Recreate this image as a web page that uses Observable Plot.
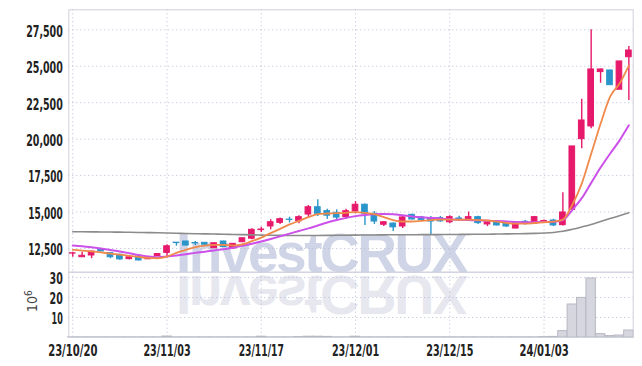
<!DOCTYPE html>
<html><head><meta charset="utf-8">
<script src="https://cdn.jsdelivr.net/npm/d3@7"></script>
<script src="https://cdn.jsdelivr.net/npm/@observablehq/plot@0.6"></script>
<style>
body{margin:0;background:#fff;}
#wrap{position:relative;width:642px;height:366px;overflow:hidden;}
#wrap svg{position:absolute;left:0;}
</style>
</head><body>
<div id="wrap"></div>
<script>
// trading dates (index = position on x)
const dates = ["23/10/20","23/10/23","23/10/24","23/10/25","23/10/26","23/10/27","23/10/30","23/10/31","23/11/01","23/11/02",
"23/11/03","23/11/06","23/11/07","23/11/08","23/11/09","23/11/10","23/11/13","23/11/14","23/11/15","23/11/16",
"23/11/17","23/11/20","23/11/21","23/11/22","23/11/23","23/11/24","23/11/27","23/11/28","23/11/29","23/11/30",
"23/12/01","23/12/04","23/12/05","23/12/06","23/12/07","23/12/08","23/12/11","23/12/12","23/12/13","23/12/14",
"23/12/15","23/12/18","23/12/19","23/12/20","23/12/21","23/12/22","23/12/26","23/12/27","23/12/28","24/01/02",
"24/01/03","24/01/04","24/01/05","24/01/08","24/01/09","24/01/10","24/01/11","24/01/12","24/01/15","24/01/16"];
const tickDates = ["23/10/20","23/11/03","23/11/17","23/12/01","23/12/15","24/01/03"];
const priceTicks = [12500,15000,17500,20000,22500,25000,27500];
const volTicks = [10,20,30];

const open = [12150,11900,12020,12430,12180,12070,11770,11930,11760,11980,
 12200,12900,12980,12880,12890,12520,12980,12500,12930,13170,
 13760,14010,14260,14480,14370,14830,15330,15060,14950,14650,
 15040,15500,14880,14130,14210,14010,14810,14630,14540,14580,
 14300,14560,14430,14650,14150,14300,14190,13870,14330,14190,
 14350,14420,14100,15150,20000,20870,24600,24710,23390,25620];
const close = [12170,12000,12290,12300,11900,11750,11900,11680,11800,12120,
 12650,12870,12700,12850,12760,12860,12600,12820,13200,13780,
 13800,14300,14510,14460,14650,15330,14880,14750,14620,15060,
 15500,14880,14350,14300,13950,14630,14490,14450,14350,14360,
 14650,14520,14650,14240,14300,14080,14010,14280,14200,14650,
 14380,14080,14970,19500,21280,24780,24780,23700,25330,26080];
const high = [12250,12250,12300,12450,12200,12100,11950,11950,11950,12150,
 12750,12900,13000,12980,12900,12880,13000,12830,13220,13850,
 13950,14470,14600,14650,14750,15450,15850,15200,15150,15200,
 15720,15550,15030,14350,14250,14720,14850,14700,14700,14700,
 14750,14720,15000,14720,14400,14380,14250,14350,14420,14700,
 14450,14500,16320,19500,22740,27500,24800,24720,25330,26350];
const low = [11900,11900,11800,12280,11800,11700,11720,11650,11760,11950,
 11900,12660,12680,12700,12700,12500,12580,12480,12900,13100,
 13600,13780,14150,14260,14200,14600,14700,14500,14450,14500,
 14880,14080,14150,14000,13670,13870,14450,14400,13440,14300,
 14200,14420,14350,14150,14000,14050,13950,13850,14100,14150,
 14300,14000,14050,15100,19340,20710,23840,23700,23390,22650];
// volume, millions
const volume = [0.1,0.1,0.1,0.1,0.1,0.1,0.1,0.1,0.1,0.1,
 0.5,0.1,0.1,0.1,0.1,0.1,0.1,0.1,0.1,0.1,
 0.4,0.1,0.1,0.1,0.2,0.4,0.4,0.3,0.1,0.1,
 0.4,0.1,0.1,0.1,0.1,0.1,0.1,0.1,0.1,0.1,
 0.1,0.1,0.1,0.1,0.1,0.1,0.1,0.1,0.1,0.1,
 0.2,0.3,3.2,16.5,19.8,29.5,1.7,0.7,1.0,3.5];
// moving averages
const ma5 = [12410,12360,12300,12230,12150,12080,12000,11920,11850,11830,
 11950,12200,12400,12600,12700,12750,12750,12700,12780,13000,
 13250,13550,13850,14150,14400,14650,14850,14900,14920,14950,
 15000,14950,14850,14650,14450,14350,14350,14400,14450,14480,
 14480,14470,14480,14450,14420,14350,14250,14200,14200,14250,
 14300,14350,14480,15500,16950,19000,21050,22900,23800,25050];
const ma10 = [12700,12650,12580,12500,12400,12300,12180,12050,11950,11900,
 11950,12020,12100,12200,12280,12370,12450,12550,12680,12830,
 12980,13150,13330,13520,13700,13880,14080,14280,14450,14600,
 14720,14800,14850,14870,14850,14780,14700,14640,14600,14560,
 14500,14470,14450,14430,14400,14380,14350,14320,14300,14300,
 14320,14330,14450,15150,15950,17000,18050,19000,19900,20950];
const ma60 = [13650,13645,13640,13635,13630,13620,13610,13600,13590,13575,
 13560,13545,13530,13515,13500,13490,13480,13465,13450,13435,
 13420,13410,13400,13395,13390,13390,13395,13400,13405,13410,
 13420,13425,13430,13435,13440,13440,13445,13450,13450,13455,
 13460,13465,13470,13475,13480,13490,13500,13510,13520,13535,
 13560,13600,13680,13820,13980,14150,14350,14550,14750,14950];

const rows = dates.map((d, i) => ({i, date: d, open: open[i], close: close[i], high: high[i], low: low[i],
  vol: volume[i], ma5: ma5[i], ma10: ma10[i], ma60: ma60[i]}));
const tickIdx = tickDates.map(d => dates.indexOf(d));

const UP = "#e6196b", DOWN = "#2b95cb";
const col = d => d.close >= d.open ? UP : DOWN;
const font = '"Liberation Sans Narrow","DejaVu Sans Condensed",sans-serif';
const style = {background: "transparent", fontFamily: font, fontSize: "15px", fontWeight: "bold", color: "#222", overflow: "visible"};
const gridOpts = {stroke: "#b7bbd5", strokeOpacity: 1, strokeDasharray: "1,3"};
const xdom = [-0.42, 59.46];

// condensed look of the reference tick font: squeeze each label to a compact width
function condense(svg) {
  d3.select(svg).selectAll("text").each(function () {
    const s = this.textContent;
    let w = 0;
    for (const c of s) w += c === "1" ? 4.6 : c === "," ? 3.6 : c === "/" ? 5.8 : 6.6;
    this.setAttribute("textLength", w);
    this.setAttribute("lengthAdjust", "spacingAndGlyphs");
  });
}

const wrap = d3.select("#wrap");

// watermark (behind the chart)
const wm = wrap.append("svg").attr("width", 642).attr("height", 366).style("top", "0px");
const wmFont = '"Liberation Sans",Arial,sans-serif';
wm.append("text").attr("x", 176).attr("y", 272).attr("font-family", wmFont)
  .attr("font-weight", "bold").attr("font-size", 55).attr("letter-spacing", -2.5).attr("fill", "#cfd5e6").text("InvestCRUX");
wm.append("text").attr("x", 176).attr("y", 272).attr("transform", "translate(0,548) scale(1,-1)")
  .attr("font-family", wmFont)
  .attr("font-weight", "bold").attr("font-size", 55).attr("letter-spacing", -2.5).attr("fill", "#e6e7ef").text("InvestCRUX");

const pricePlot = Plot.plot({
  width: 642, height: 272,
  marginTop: 9.3, marginBottom: 0.3, marginLeft: 68.3, marginRight: 9.3,
  x: {domain: xdom, axis: null},
  y: {domain: [10874, 28872], axis: null},
  style,
  marks: [
    Plot.gridY(priceTicks, gridOpts),
    Plot.gridX(tickIdx, gridOpts),
    Plot.frame({stroke: "#cfd1dc"}),
    Plot.axisY(priceTicks, {tickSize: 0, tickPadding: 6, tickFormat: d3.format(","), dy: 2, label: null}),
    Plot.ruleX(rows, {x: "i", y1: "low", y2: "high", stroke: col, strokeWidth: 1.4}),
    Plot.rect(rows, {x1: d => d.i - 0.3, x2: d => d.i + 0.3, y1: "open", y2: "close", fill: col, stroke: col, strokeWidth: 1}),
    Plot.line(rows, {x: "i", y: "ma60", stroke: "#8b8b8b", strokeWidth: 1.6, curve: "monotone-x"}),
    Plot.line(rows, {x: "i", y: "ma10", stroke: "#cc50ea", strokeWidth: 2, curve: "monotone-x"}),
    Plot.line(rows, {x: "i", y: "ma5", stroke: "#f08a4b", strokeWidth: 1.8, curve: "monotone-x"})
  ]
});
d3.select(pricePlot).style("top", "0px");
wrap.node().appendChild(pricePlot);
condense(pricePlot);

const volPlot = Plot.plot({
  width: 642, height: 95,
  marginTop: 0.7, marginBottom: 29, marginLeft: 68.3, marginRight: 9.3,
  x: {domain: xdom, axis: null},
  y: {domain: [0, 32.65], axis: null},
  style,
  marks: [
    Plot.gridY(volTicks, gridOpts),
    Plot.gridX(tickIdx, gridOpts),
    Plot.rectY(rows, {x1: d => d.i - 0.5, x2: d => d.i + 0.5, y: "vol", fill: "#d6d6de", stroke: "#b8b8c3", strokeWidth: 1}),
    Plot.frame({stroke: "#cfd1dc"}),
    Plot.axisY(volTicks, {tickSize: 0, tickPadding: 6, dy: 1.5, label: null}),
    Plot.axisX(tickIdx, {tickSize: 0, tickPadding: 8, tickFormat: i => dates[i], label: null})
  ]
});
d3.select(volPlot).style("top", "271px");
wrap.node().appendChild(volPlot);
condense(volPlot);

// unit label
const lab = wrap.append("svg").attr("width", 642).attr("height", 366).style("top", "0px").style("pointer-events", "none");
const t = lab.append("text").attr("transform", "translate(37,312) rotate(-90)")
  .attr("font-family", font).attr("font-size", 14).attr("fill", "#444");
t.append("tspan").text("10");
t.append("tspan").attr("dy", -5).attr("font-size", 10).text("6");
</script>
</body></html>
